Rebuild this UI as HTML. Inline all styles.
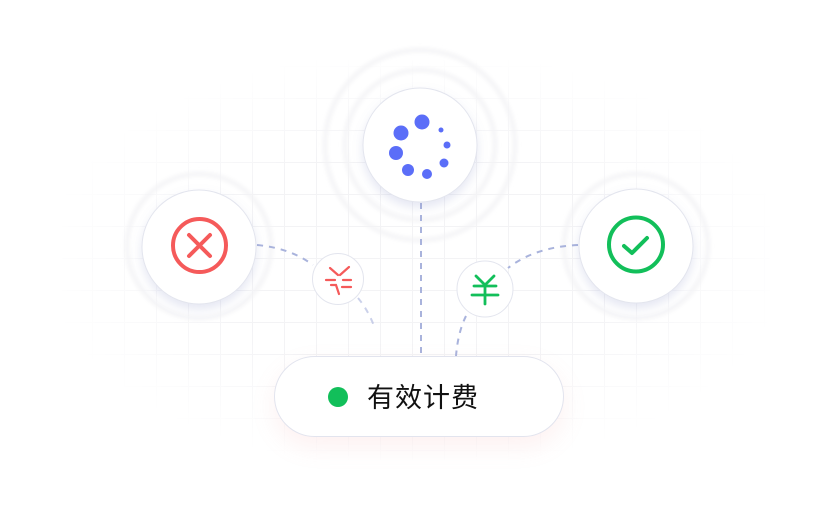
<!DOCTYPE html>
<html><head><meta charset="utf-8"><style>
html,body{margin:0;padding:0;background:#fff;}
body{width:840px;height:526px;position:relative;overflow:hidden;font-family:"Liberation Sans","Noto Sans CJK SC",sans-serif;}
.grid{position:absolute;left:62px;top:60px;width:708px;height:400px;
background-image:linear-gradient(#f0f0f3 1px,transparent 1px),linear-gradient(90deg,#f0f0f3 1px,transparent 1px);
background-size:32px 32px;background-position:30px 6px;
-webkit-mask-image:radial-gradient(ellipse at center,rgba(0,0,0,0.8) 40%,rgba(0,0,0,0) 75%);
mask-image:radial-gradient(ellipse at center,rgba(0,0,0,0.8) 40%,rgba(0,0,0,0) 75%);}
.pill{position:absolute;left:274px;top:356px;width:288px;height:79px;border-radius:41px;background:#fff;border:1px solid #e2e4ee;box-shadow:0 10px 24px rgba(240,150,150,0.13);}
.dot{position:absolute;left:53px;top:30px;width:20px;height:20px;border-radius:50%;background:#12bf5a;}
.txt{position:absolute;left:92px;top:21px;font-size:27px;color:#111;letter-spacing:1px;font-family:"Noto Sans CJK SC",sans-serif;line-height:36px;}
</style></head><body>
<div class="grid"></div>
<svg width="840" height="526" style="position:absolute;left:0;top:0">
<defs>
<filter id="sh" x="-30%" y="-30%" width="160%" height="160%"><feDropShadow dx="0" dy="5" stdDeviation="5" flood-color="#8a93c8" flood-opacity="0.22"/></filter>
<filter id="bl" x="-20%" y="-20%" width="140%" height="140%"><feGaussianBlur stdDeviation="2"/></filter>
</defs>
<g fill="none" stroke="#f3f3f5" stroke-width="4" filter="url(#bl)">
<circle cx="420" cy="145" r="75"/><circle cx="420" cy="145" r="95"/>
<circle cx="199" cy="246" r="72"/><circle cx="636" cy="246" r="72"/>
</g>
<g fill="none" stroke="#a9b3dc" stroke-width="2" stroke-dasharray="6 6">
<line x1="421" y1="203" x2="421" y2="356"/>
<path d="M257 245 Q290 248 313 265"/>
<path d="M358 298 Q368 310 374 326" opacity="0.6"/>
<path d="M578 245 Q535 247 508 268"/>
<path d="M466 316 Q458 332 456 356"/>
</g>
<g fill="#fff" stroke="#e3e5ee" stroke-width="1">
<circle cx="420" cy="145" r="57" filter="url(#sh)"/>
<circle cx="199" cy="247" r="57" filter="url(#sh)"/>
<circle cx="636" cy="246" r="57" filter="url(#sh)"/>
<circle cx="338" cy="279" r="25.5"/>
<circle cx="485" cy="289" r="28"/>
</g>
<g fill="#5b6ef8">
<circle cx="422" cy="122" r="7.5"/><circle cx="401" cy="133" r="7.5"/><circle cx="396" cy="153" r="7"/>
<circle cx="408" cy="170" r="6"/><circle cx="427" cy="174" r="5"/><circle cx="444" cy="163" r="4.5"/>
<circle cx="447" cy="145" r="3.5"/><circle cx="441" cy="130" r="2.5"/>
</g>
<circle cx="199.5" cy="245.5" r="26.5" fill="none" stroke="#f55a5a" stroke-width="4"/>
<path d="M189 235 L210 256 M210 235 L189 256" stroke="#f55a5a" stroke-width="4" stroke-linecap="round"/>
<circle cx="636" cy="244.5" r="27" fill="none" stroke="#12bf5a" stroke-width="4"/>
<path d="M624 246 L632 253 L647 238" fill="none" stroke="#12bf5a" stroke-width="4" stroke-linecap="round" stroke-linejoin="round"/>
<g stroke="#f55a5a" stroke-width="2.2" stroke-linecap="round" fill="none">
<path d="M330 268 L338 275 M349 267 L340 275"/>
<path d="M326 280 L335 280 M343 280 L351 280"/>
<path d="M331 285 L336 285 L339 294"/>
<path d="M342 287 L351 287"/>
</g>
<g stroke="#12bf5a" stroke-width="2.8" stroke-linecap="round" fill="none">
<path d="M476 276 L485 285 L494 276"/>
<path d="M474 286 L496 286 M472 295 L498 295 M485 285 L485 304"/>
</g>
</svg>
<div class="pill"><div class="dot"></div><div class="txt">有效计费</div></div>
</body></html>
